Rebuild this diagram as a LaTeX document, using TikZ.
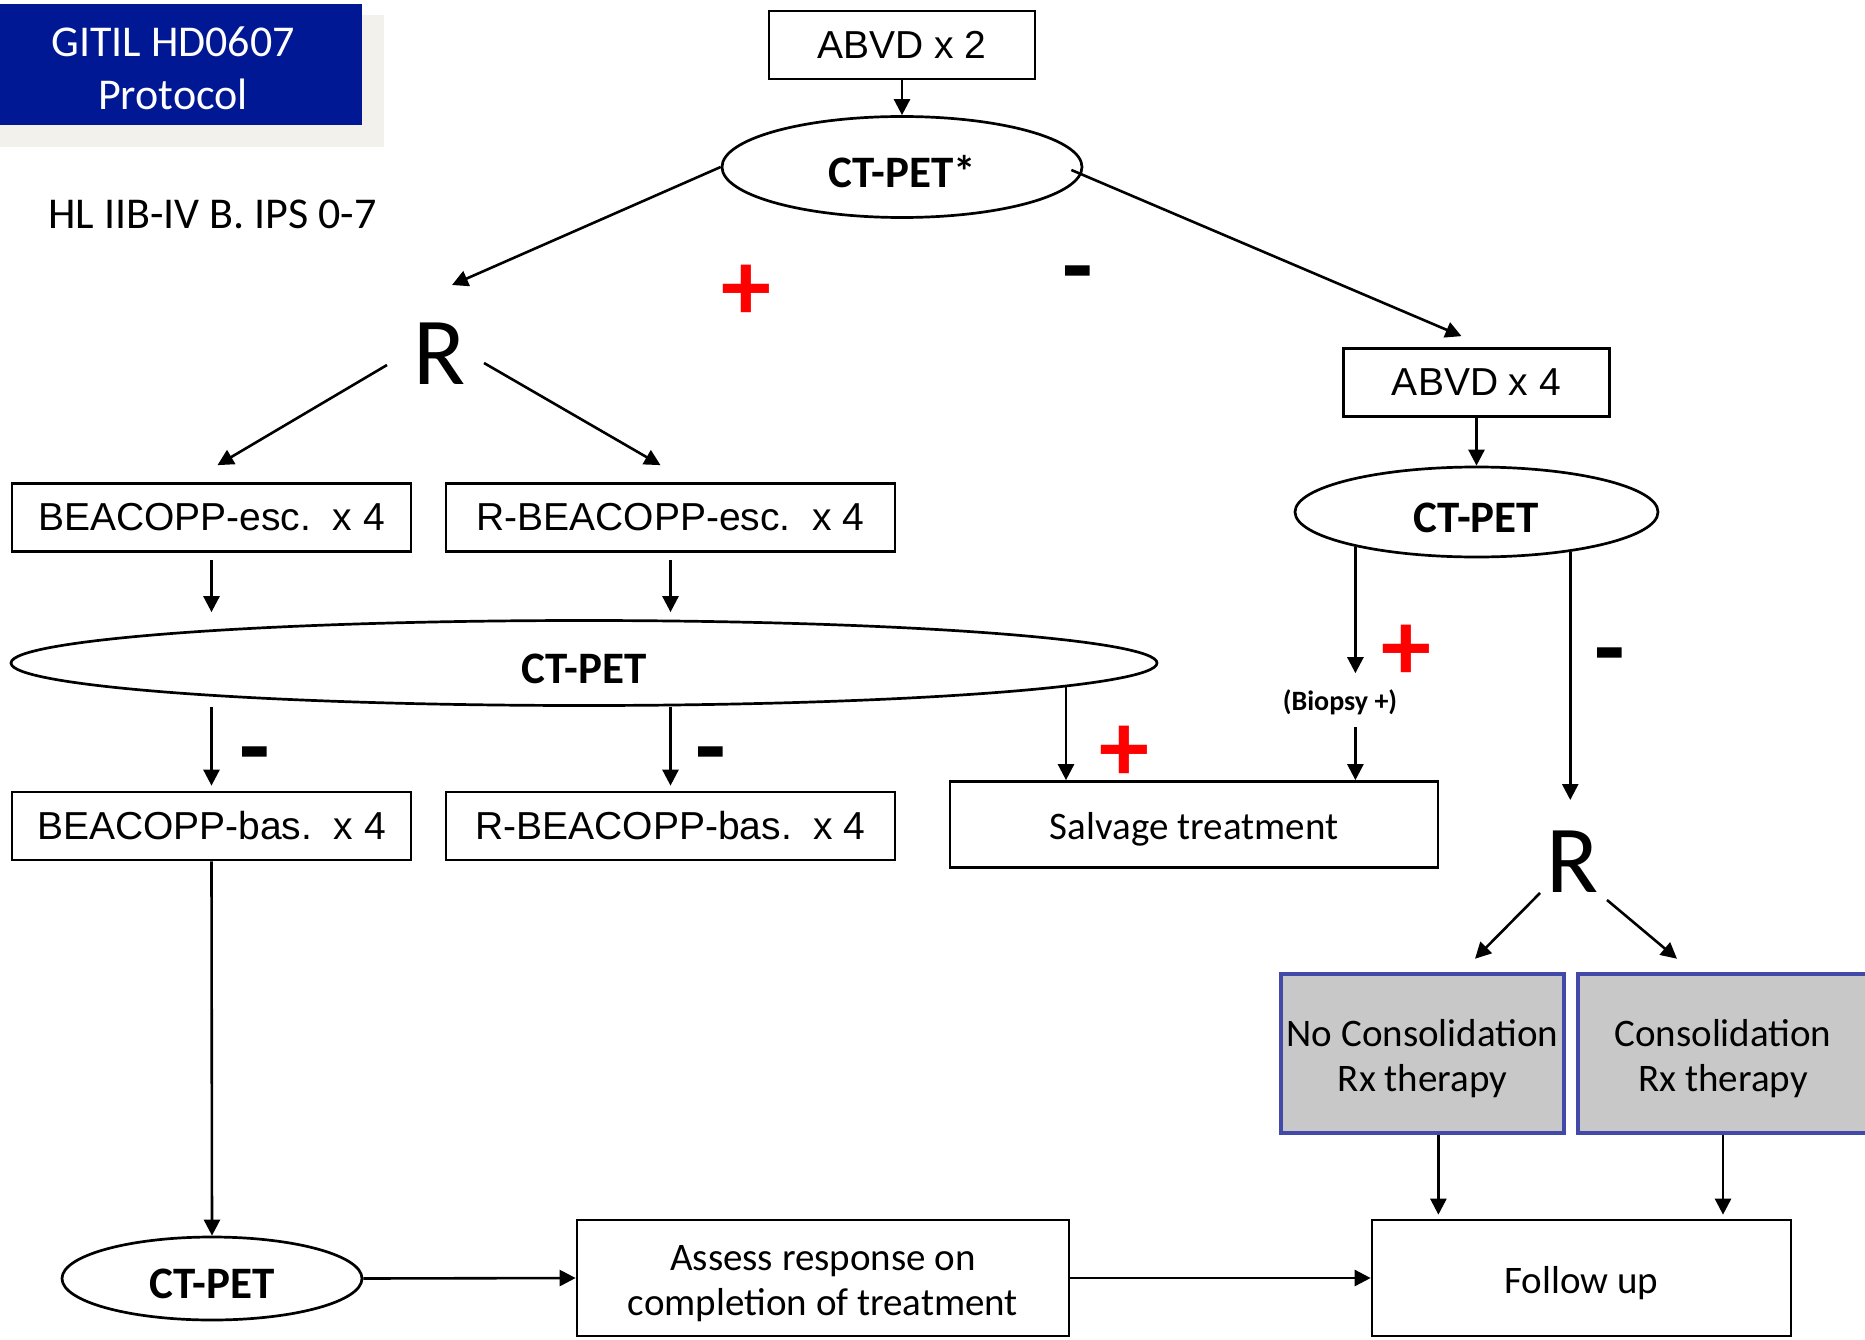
\documentclass[tikz,border=0pt]{standalone}
\usepackage{fontspec}
\setmainfont{Carlito}
\newfontfamily\arialfont{Liberation Sans}
\usepackage{tikz}
\usetikzlibrary{arrows.meta,shapes.geometric,calc}
\definecolor{titleblue}{RGB}{0,24,148}
\definecolor{shadowgray}{RGB}{242,241,236}
\definecolor{consblue}{RGB}{66,73,168}
\definecolor{consgray}{RGB}{200,200,200}

\begin{document}
\begin{tikzpicture}[
    x=1pt, y=-1pt,
    box/.style={draw, line width=2.7pt, minimum width=#1, minimum height=68pt, inner sep=0pt},
    armbox/.style={box=#1, font=\arialfont\fontsize{39}{46}\selectfont},
    txtbox/.style={box=#1, align=center, font=\fontsize{39}{45}\selectfont},
    oval/.style={ellipse, draw, line width=2.7pt, inner sep=0pt, text height=41pt,
        font=\bfseries\fontsize{45}{50}\selectfont},
    consbox/.style={draw=consblue, fill=consgray, line width=4.5pt, minimum width=#1, minimum height=159pt,
        inner sep=0pt, align=center, text height=82pt, font=\fontsize{39}{45}\selectfont},
    rand/.style={inner sep=0pt, font=\fontsize{96}{100}\selectfont},
    plus/.style={inner sep=0pt, text=red, font=\bfseries\fontsize{100}{100}\selectfont},
    minus/.style={inner sep=0pt, font=\bfseries\fontsize{100}{100}\selectfont},
    arr/.style={-{Triangle[length=16pt, width=16pt]}, line width=2.6pt}
]
\useasboundingbox (0, 0) rectangle (1865, 1340);

\node[fill=shadowgray, minimum width=384pt, minimum height=132pt] (shadow) at (192, 81) {};
\node[fill=titleblue, text=white, minimum width=378pt, minimum height=121pt, align=center, text height=90pt,
    font=\fontsize{44}{53}\selectfont] (title) at (173, 64.5) {GITIL HD0607\\Protocol};
\node[anchor=west, inner sep=0pt, font=\fontsize{44}{50}\selectfont] (stage) at (48, 214) {HL IIB-IV B. IPS 0-7};

\node[armbox=266pt] (abvd2) at (902, 45) {ABVD x 2};
\node[oval, minimum width=360pt, minimum height=101pt] (ctpet1) at (902, 167) {CT-PET*};
\node[rand] (Rl) at (440, 354) {R};
\node[armbox=399pt] (esc) at (211.5, 517.5) {BEACOPP-esc.\ \ x 4};
\node[armbox=449pt] (resc) at (670.5, 517.5) {R-BEACOPP-esc.\ \ x 4};
\node[oval, minimum width=1146pt, minimum height=85pt] (ctpet2) at (584, 663) {CT-PET};
\node[armbox=399pt] (bas) at (211.5, 826) {BEACOPP-bas.\ \ x 4};
\node[armbox=449pt] (rbas) at (670.5, 826) {R-BEACOPP-bas.\ \ x 4};
\node[txtbox=488pt, minimum height=86pt, text height=37pt] (salv) at (1194, 824.5) {Salvage treatment};

\node[armbox=266pt] (abvd4) at (1476.5, 382.5) {ABVD x 4};
\node[oval, minimum width=363pt, minimum height=90pt] (ctpet3) at (1476.5, 512) {CT-PET};
\node[inner sep=0pt, font=\bfseries\fontsize{28}{32}\selectfont] (biopsy) at (1340, 702) {(Biopsy +)};
\node[rand] (Rr) at (1573, 862) {R};
\node[consbox=283pt] (nocons) at (1422.5, 1053.5) {No Consolidation\\Rx therapy};
\node[consbox=290pt] (cons) at (1723, 1053.5) {Consolidation\\Rx therapy};

\node[oval, minimum width=300pt, minimum height=83pt] (ctpet4) at (212, 1278.5) {CT-PET};
\node[txtbox=492pt, minimum height=116pt, text height=82pt] (assess) at (823, 1278) {Assess response on\\completion of treatment};
\node[txtbox=419pt, minimum height=116pt, text height=37pt] (follow) at (1581.5, 1278) {Follow up};

\node[plus] (plus1) at (746, 293) {+};
\node[minus] (minus1) at (1078, 283) {-};
\node[minus] (minus2) at (255, 764) {-};
\node[minus] (minus3) at (711, 764) {-};
\node[plus] (plus2) at (1124, 754) {+};
\node[plus] (plus3) at (1406, 653) {+};
\node[minus] (minus4) at (1610, 665) {-};

\draw[arr] (abvd2.south) -- (ctpet1.north);
\draw[arr] (ctpet1.west) -- ($(Rl)+(12, -69)$);
\draw[arr] ($(ctpet1.east)+(-12, 3)$) -- ($(abvd4.north)+(-15, -11)$);
\draw[arr] ($(Rl)+(-53, 11)$) -- ($(esc.north)+(6, -17)$);
\draw[arr] ($(Rl)+(44, 9)$) -- ($(resc.north)+(-10, -17)$);
\draw[arr, shorten <=7pt, shorten >=7pt] (esc.south) -- (esc.south |- ctpet2.north);
\draw[arr, shorten <=7pt, shorten >=7pt] (resc.south) -- (resc.south |- ctpet2.north);
\draw[arr, shorten >=5pt] (bas.north |- ctpet2.south) -- (bas.north);
\draw[arr, shorten >=5pt] (rbas.north |- ctpet2.south) -- (rbas.north);
\draw[arr] ($(salv.north)+(-128, -95)$) -- ($(salv.north)+(-128, 0)$);

\draw[arr] (abvd4.south) -- (ctpet3.north);
\draw[arr, shorten >=16pt] (ctpet3.-164.2) -- (ctpet3.-164.2 |- biopsy.north);
\draw[arr, shorten <=12pt] (ctpet3.-164.2 |- biopsy.south) -- (ctpet3.-164.2 |- salv.north);
\draw[arr, shorten >=31pt] (ctpet3.-23.3) -- (ctpet3.-23.3 |- Rr.north);
\draw[arr] ($(Rr)+(-33, 31)$) -- ($(nocons.north)+(52.5, -13)$);
\draw[arr] ($(Rr)+(34, 38)$) -- ($(cons.north)+(-46, -13)$);
\draw[arr, shorten >=4pt] (nocons.-79.7) -- (nocons.-79.7 |- follow.north);
\draw[arr, shorten >=4pt] (cons.south) -- (cons.south |- follow.north);

\draw[arr] (bas.south) -- (ctpet4.north);
\draw[arr] (ctpet4.east) -- (assess.west);
\draw[arr] (assess.east) -- (follow.west);
\end{tikzpicture}
\end{document}
